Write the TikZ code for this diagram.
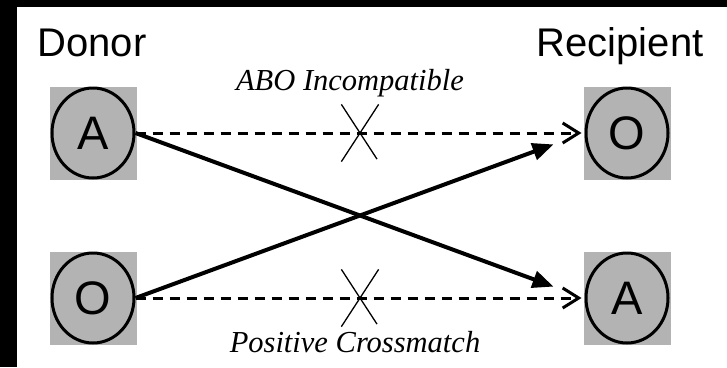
\documentclass[tikz,border=0pt]{standalone}
\usepackage{fontspec}
\setmainfont{Liberation Sans}
\newfontfamily\notefont{Liberation Serif}
\usepackage{tikz}
\usetikzlibrary{arrows.meta,shapes.geometric,shapes.misc,backgrounds}
\definecolor{ink}{HTML}{000000}
\definecolor{swatch}{HTML}{B3B3B3}

\begin{document}
\begin{tikzpicture}[
  x=1pt,y=-1pt,
  blood/.style={draw=ink,ellipse,line width=3pt,minimum width=82pt,minimum height=90pt,inner sep=0pt,font=\fontsize{47}{47}\selectfont},
  side/.style={font=\fontsize{40}{40}\selectfont},
  note/.style={font=\notefont\itshape\fontsize{30.5}{30.5}\selectfont,anchor=base},
  veto/.style={draw=ink,solid,cross out,line width=1.3pt,minimum width=36pt,minimum height=56pt,inner sep=0pt},
  match/.style={-{Triangle[length=21pt,width=17pt]},line width=4pt,draw=ink,shorten >=33pt},
  blocked/.style={-{Straight Barb[length=16pt,width=20pt]},line width=3pt,draw=ink,dash pattern=on 10pt off 7pt,shorten >=3pt}
]
\useasboundingbox (0,0) rectangle (727,367);
% frame edges
\fill[ink] (0,0) rectangle (17,367);
\fill[ink] (0,0) rectangle (727,7);

\node[side,anchor=base west] (donor) at (34,56) {Donor};
\node[side,anchor=base east] (recipient) at (707,56) {Recipient};

\node[blood] (dA) at (93,133) {A};
\node[blood] (dO) at (93,298) {O};
\node[blood] (rO) at (627,133) {O};
\node[blood] (rA) at (627,298) {A};

% grey squares behind the blood types
\begin{scope}[on background layer]
\foreach \n in {dA,dO,rO,rA}
  \fill[swatch] ([xshift=-1pt]\n.west |- \n.north) rectangle ([xshift=1pt]\n.east |- \n.south);
\end{scope}

\draw[blocked] (dA.east) -- (rO.west) node[veto,pos=0.5] (noABO) {};
\draw[blocked] (dO.east) -- (rA.west) node[veto,pos=0.5] (noXM) {};
\draw[match] (dA.east) -- (rA.west);
\draw[match] (dO.east) -- (rO.west);

\node[note] (abo) at (350,90) {ABO Incompatible};
\node[note] (xm) at (355,352) {Positive Crossmatch};
\end{tikzpicture}
\end{document}
